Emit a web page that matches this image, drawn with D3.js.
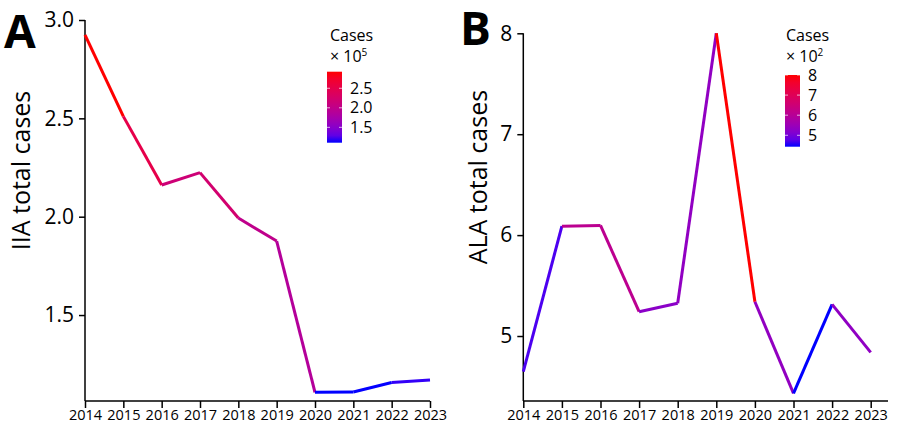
<!DOCTYPE html>
<html><head><meta charset="utf-8">
<script src="https://cdn.jsdelivr.net/npm/d3@7"></script>
<style>body{margin:0;background:#fff} text{font-family:"Open Sans",sans-serif;fill:#000}</style>
</head><body><svg id="c" width="900" height="436"></svg>
<script>
const years = [2014, 2015, 2016, 2017, 2018, 2019, 2020, 2021, 2022, 2023];
const iiaCases = [2.924, 2.51, 2.161, 2.224, 1.993, 1.876, 1.107, 1.109, 1.157, 1.170];
const alaCases = [4.646, 6.089, 6.096, 5.241, 5.324, 8.0, 5.34, 4.432, 5.314, 4.838];
const iiaTicks = [1.5, 2.0, 2.5, 3.0];
const alaTicks = [5, 6, 7, 8];
const iiaLegendTicks = [1.5, 2.0, 2.5];
const alaLegendTicks = [5, 6, 7, 8];

const svg = d3.select("#c");
const defs = svg.append("defs");
const interp = d3.interpolateLab("blue", "red");

const panels = [
  {letter: "A", letterX: 4, letterY: 48, title: "IIA total cases", titleX: 30,
   data: iiaCases, ticks: iiaTicks, fmt: d3.format(".1f"), legTicks: iiaLegendTicks, legFmt: d3.format(".1f"),
   x0: 85, x1: 430, axisEnd: 430, yDom: [1.063, 3.0], yTop: 20, exp: "5",
   legX: 327, legTop: 71.7, legBot: 142.7, legTitleX: 330},
  {letter: "B", letterX: 460, letterY: 45, title: "ALA total cases", titleX: 487,
   data: alaCases, ticks: alaTicks, fmt: d3.format("d"), legTicks: alaLegendTicks, legFmt: d3.format("d"),
   x0: 523.3, x1: 870.7, axisEnd: 888, yDom: [4.356, 8.0], yTop: 33.3, exp: "2",
   legX: 785, legTop: 75, legBot: 146.7, legTitleX: 786}
];
const yBot = 401;

panels.forEach((p, pi) => {
  const g = svg.append("g");
  const x = d3.scaleLinear().domain([years[0], years[years.length - 1]]).range([p.x0, p.x1]);
  const y = d3.scaleLinear().domain(p.yDom).range([yBot, p.yTop]);
  const [mn, mx] = d3.extent(p.data);
  const col = v => interp((v - mn) / (mx - mn));

  // axes
  const ya = g.append("g").attr("transform", `translate(${p.x0},0)`)
    .call(d3.axisLeft(y).tickValues(p.ticks).tickFormat(p.fmt).tickSize(6).tickSizeOuter(0).tickPadding(5));
  ya.select(".domain").remove();
  ya.selectAll("text").style("font-size", "21px");
  const xa = g.append("g").attr("transform", `translate(0,${yBot})`)
    .call(d3.axisBottom(x).tickValues(years).tickFormat(d3.format("d")).tickSize(7).tickSizeOuter(0).tickPadding(2));
  xa.select(".domain").remove();
  xa.selectAll("text").style("font-size", "14.5px");
  g.selectAll(".tick line").attr("stroke", "#000").attr("stroke-width", 1.5);
  g.append("line").attr("x1", p.x0).attr("x2", p.x0).attr("y1", p.yTop).attr("y2", yBot)
    .attr("stroke", "#000").attr("stroke-width", 1.5);
  g.append("line").attr("x1", p.x0).attr("x2", p.axisEnd).attr("y1", yBot).attr("y2", yBot)
    .attr("stroke", "#000").attr("stroke-width", 1.5);

  // line segments coloured by start value
  const segs = d3.range(years.length - 1).map(i => ({i}));
  g.selectAll("line.seg").data(segs).join("line").attr("class", "seg")
    .attr("x1", d => x(years[d.i])).attr("y1", d => y(p.data[d.i]))
    .attr("x2", d => x(years[d.i + 1])).attr("y2", d => y(p.data[d.i + 1]))
    .attr("stroke", d => col(p.data[d.i])).attr("stroke-width", 3).attr("stroke-linecap", "butt");

  // titles
  g.append("text").attr("x", p.letterX).attr("y", p.letterY).text(p.letter)
    .style("font-size", "46px").style("font-weight", "bold");
  g.append("text").attr("transform", `translate(${p.titleX},${(p.yTop + yBot) / 2 - 40}) rotate(-90)`)
    .attr("text-anchor", "middle").text(p.title).style("font-size", "25px");

  // legend
  const gid = "grad" + pi;
  const grad = defs.append("linearGradient").attr("id", gid).attr("x1", 0).attr("x2", 0).attr("y1", 1).attr("y2", 0);
  d3.range(0, 1.0001, 0.1).forEach(t => grad.append("stop").attr("offset", t).attr("stop-color", interp(t)));
  g.append("rect").attr("x", p.legX).attr("y", p.legTop).attr("width", 15).attr("height", p.legBot - p.legTop)
    .attr("fill", `url(#${gid})`);
  const ly = d3.scaleLinear().domain([mn, mx]).range([p.legBot, p.legTop]);
  p.legTicks.forEach(v => {
    [[p.legX, p.legX + 3], [p.legX + 12, p.legX + 15]].forEach(([a, b]) =>
      g.append("line").attr("x1", a).attr("x2", b).attr("y1", ly(v)).attr("y2", ly(v))
        .attr("stroke", "#fff").attr("stroke-opacity", 0.7).attr("stroke-width", 1));
    g.append("text").attr("x", p.legX + 23).attr("y", ly(v)).attr("dy", "0.35em").text(p.legFmt(v))
      .style("font-size", "16px");
  });
  g.append("text").attr("x", p.legTitleX).attr("y", 41).text("Cases").style("font-size", "16px");
  const t2 = g.append("text").attr("x", p.legTitleX).attr("y", 61.5).style("font-size", "16px");
  t2.append("tspan").text("× 10");
  t2.append("tspan").attr("dy", -6).style("font-size", "10px").text(p.exp);
});
</script></body></html>
